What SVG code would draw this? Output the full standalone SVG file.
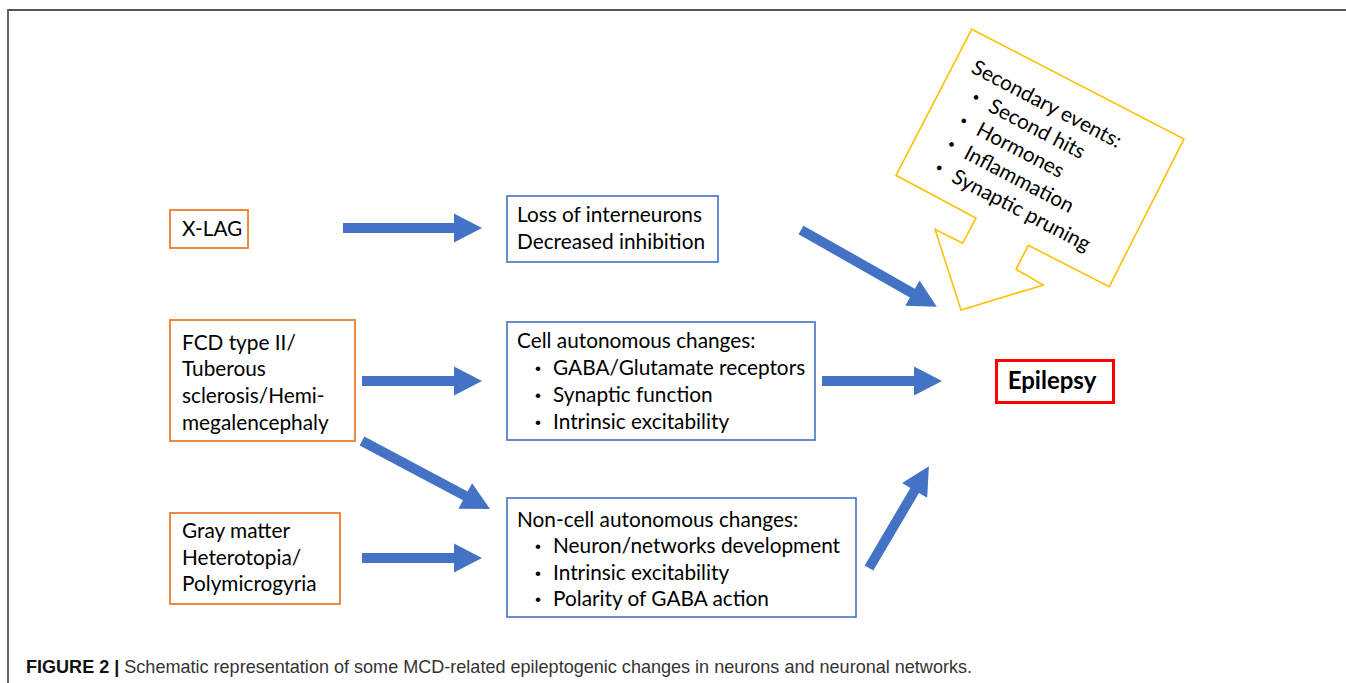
<svg xmlns="http://www.w3.org/2000/svg" width="1346" height="683" viewBox="0 0 1346 683">
<style>
.t{font-family:Lato,"Liberation Sans",sans-serif;font-size:20.8px;fill:#000}
.b{font-family:"Liberation Sans",sans-serif;font-size:17px;fill:#000}
.ob{fill:#fff;stroke:#ED7D31;stroke-width:1.8}
.bb{fill:#fff;stroke:#4472C4;stroke-width:1.6}
.ar{fill:#4472C4}
</style>
<rect width="1346" height="683" fill="#fff"/>
<path d="M8,683 V10 H1346" fill="none" stroke="#555" stroke-width="1.8"/>
<g id="connectors">
<polygon class="ar" transform="translate(343,228)" points="0,-5 111,-5 111,-14.5 139,0 111,14.5 111,5 0,5"/>
<polygon class="ar" transform="translate(362,381)" points="0,-5 92,-5 92,-14.5 120,0 92,14.5 92,5 0,5"/>
<polygon class="ar" transform="translate(362,558)" points="0,-5 92,-5 92,-14.5 120,0 92,14.5 92,5 0,5"/>
<polygon class="ar" transform="translate(822,381)" points="0,-5 92,-5 92,-14.5 120,0 92,14.5 92,5 0,5"/>
<polygon class="ar" transform="translate(362,441) rotate(28)" points="0,-5 117,-5 117,-14.5 145,0 117,14.5 117,5 0,5"/>
<polygon class="ar" transform="translate(801,230) rotate(29.5)" points="0,-5 128,-5 128,-14.5 156,0 128,14.5 128,5 0,5"/>
<polygon class="ar" transform="translate(869,568) rotate(-59.5)" points="0,-5 90,-5 90,-14.5 118,0 90,14.5 90,5 0,5"/>
</g>
<g id="xlag">
<rect class="ob" x="170" y="210" width="78" height="38"/>
<text class="t" x="182" y="236">X-LAG</text>
</g>
<g id="loss">
<rect class="bb" x="507" y="196" width="211" height="66"/>
<text class="t" x="517" y="222">Loss of interneurons</text>
<text class="t" x="517" y="249">Decreased inhibition</text>
</g>
<g id="fcd">
<rect class="ob" x="170" y="320" width="185" height="121"/>
<text class="t" x="182" y="350">FCD type II/</text>
<text class="t" x="182" y="376">Tuberous</text>
<text class="t" x="182" y="403">sclerosis/Hemi-</text>
<text class="t" x="182" y="430">megalencephaly</text>
</g>
<g id="cell">
<rect class="bb" x="507" y="322" width="308" height="118"/>
<text class="t" x="517" y="348">Cell autonomous changes:</text>
<text class="b" x="535" y="374">•</text><text class="t" x="553" y="375">GABA/Glutamate receptors</text>
<text class="b" x="535" y="401">•</text><text class="t" x="553" y="402">Synaptic function</text>
<text class="b" x="535" y="428">•</text><text class="t" x="553" y="429">Intrinsic excitability</text>
</g>
<g id="gray">
<rect class="ob" x="170" y="513" width="170" height="91"/>
<text class="t" x="182" y="538">Gray matter</text>
<text class="t" x="182" y="565">Heterotopia/</text>
<text class="t" x="182" y="591">Polymicrogyria</text>
</g>
<g id="noncell">
<rect class="bb" x="507" y="498" width="349" height="119"/>
<text class="t" x="517" y="527">Non-cell autonomous changes:</text>
<text class="b" x="535" y="552">•</text><text class="t" x="553" y="553">Neuron/networks development</text>
<text class="b" x="535" y="579">•</text><text class="t" x="553" y="580">Intrinsic excitability</text>
<text class="b" x="535" y="605">•</text><text class="t" x="553" y="606">Polarity of GABA action</text>
</g>
<g id="epilepsy">
<rect x="996.5" y="360.5" width="117" height="42" fill="#fff" stroke="#FF0000" stroke-width="3"/>
<text x="1052" y="389" text-anchor="middle" style="font-family:Lato,'Liberation Sans',sans-serif;font-size:24px;font-weight:bold;fill:#000">Epilepsy</text>
</g>
<g id="secondary">
<polygon points="971.7,29.3 1184,139 1109.3,286.7 1028.3,245.3 1016,269.3 1043.3,285 961,310 935,229.3 962.7,243.3 976,218 896,175.3" fill="#fff" stroke="#FFC000" stroke-width="1.6"/>
<g transform="translate(970,72) rotate(27.5)">
<text class="t" x="0" y="0">Secondary events:</text>
<text class="b" x="14" y="25.5">•</text><text class="t" x="33" y="26.5">Second hits</text>
<text class="b" x="14" y="52">•</text><text class="t" x="33" y="53">Hormones</text>
<text class="b" x="14" y="78.5">•</text><text class="t" x="33" y="79.5">Inflammation</text>
<text class="b" x="14" y="105">•</text><text class="t" x="33" y="106">Synaptic pruning</text>
</g>
</g>
<text x="26" y="673" textLength="946" lengthAdjust="spacingAndGlyphs" style="font-family:'Liberation Sans',sans-serif;font-size:18.5px;fill:#333"><tspan font-weight="bold" fill="#111">FIGURE 2 | </tspan>Schematic representation of some MCD-related epileptogenic changes in neurons and neuronal networks.</text>
</svg>
